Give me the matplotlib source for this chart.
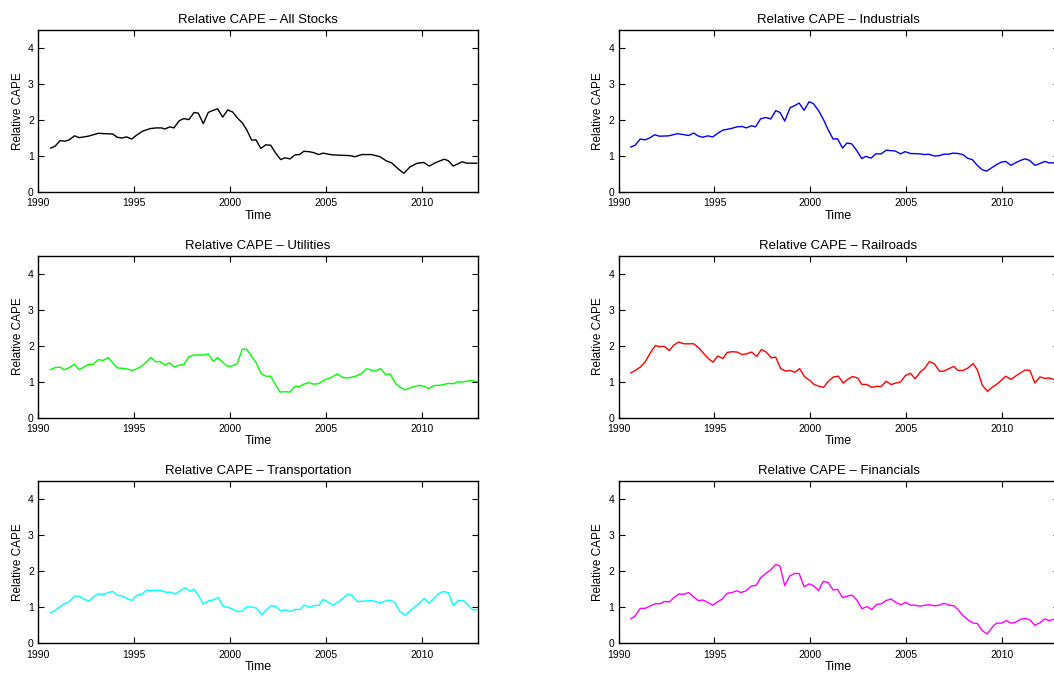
import matplotlib
matplotlib.use("Agg")
import matplotlib.pyplot as plt

plt.rcParams['font.family'] = ['Liberation Sans', 'DejaVu Sans']

# series (decimal year, relative CAPE)
t_all = [1990.66, 1990.89, 1991.15, 1991.40, 1991.63, 1991.90, 1992.15, 1992.62, 1993.14, 1993.90,
         1994.13, 1994.36, 1994.62, 1994.88, 1995.14, 1995.45, 1995.83, 1996.15, 1996.44, 1996.60,
         1996.88, 1997.08, 1997.36, 1997.60, 1997.86, 1998.13, 1998.35, 1998.61, 1998.87, 1999.13,
         1999.36, 1999.62, 1999.88, 2000.14, 2000.38, 2000.64, 2000.87, 2001.13, 2001.35, 2001.61,
         2001.86, 2002.12, 2002.38, 2002.64, 2002.86, 2003.13, 2003.39, 2003.62, 2003.85, 2004.13,
         2004.38, 2004.62, 2004.86, 2005.12, 2005.38, 2005.82, 2006.25, 2006.51, 2006.86, 2007.38,
         2007.81, 2008.16, 2008.42, 2008.77, 2009.06, 2009.38, 2009.76, 2010.10, 2010.38, 2010.77,
         2011.16, 2011.37, 2011.63, 2012.10, 2012.33, 2012.85]
v_all = [1.22, 1.27, 1.43, 1.41, 1.45, 1.56, 1.51, 1.55, 1.63, 1.61,
         1.52, 1.50, 1.53, 1.47, 1.58, 1.69, 1.76, 1.78, 1.78, 1.75,
         1.81, 1.78, 1.98, 2.04, 2.01, 2.21, 2.19, 1.90, 2.21, 2.27,
         2.31, 2.08, 2.28, 2.22, 2.06, 1.92, 1.73, 1.44, 1.45, 1.21,
         1.31, 1.30, 1.08, 0.90, 0.95, 0.92, 1.03, 1.04, 1.13, 1.12,
         1.09, 1.04, 1.08, 1.05, 1.03, 1.02, 1.01, 0.98, 1.04, 1.04,
         0.98, 0.86, 0.81, 0.64, 0.52, 0.70, 0.80, 0.82, 0.72, 0.83,
         0.91, 0.87, 0.72, 0.84, 0.80, 0.80]

t_ind = [1990.64, 1990.87, 1991.13, 1991.39, 1991.62, 1991.88, 1992.13, 1992.61, 1993.08, 1993.66,
         1993.92, 1994.13, 1994.39, 1994.65, 1994.91, 1995.17, 1995.44, 1995.84, 1996.18, 1996.45,
         1996.66, 1996.92, 1997.14, 1997.40, 1997.67, 1997.93, 1998.19, 1998.41, 1998.66, 1998.94,
         1999.18, 1999.41, 1999.67, 1999.93, 2000.16, 2000.42, 2000.68, 2000.92, 2001.18, 2001.41,
         2001.67, 2001.90, 2002.14, 2002.40, 2002.67, 2002.89, 2003.15, 2003.41, 2003.68, 2003.94,
         2004.41, 2004.69, 2004.93, 2005.21, 2005.68, 2005.94, 2006.15, 2006.46, 2006.72, 2006.95,
         2007.20, 2007.42, 2007.68, 2007.94, 2008.17, 2008.43, 2008.69, 2008.94, 2009.18, 2009.43,
         2009.69, 2009.95, 2010.17, 2010.44, 2010.68, 2010.91, 2011.17, 2011.41, 2011.69, 2011.95,
         2012.21, 2012.42, 2012.56, 2012.90]
v_ind = [1.25, 1.30, 1.47, 1.45, 1.50, 1.59, 1.55, 1.56, 1.62, 1.57,
         1.64, 1.56, 1.52, 1.56, 1.53, 1.63, 1.72, 1.76, 1.81, 1.82,
         1.78, 1.84, 1.81, 2.03, 2.07, 2.03, 2.26, 2.21, 1.97, 2.34,
         2.40, 2.47, 2.27, 2.51, 2.45, 2.26, 2.01, 1.73, 1.47, 1.48,
         1.22, 1.36, 1.34, 1.16, 0.93, 0.99, 0.94, 1.06, 1.06, 1.16,
         1.14, 1.06, 1.12, 1.07, 1.06, 1.04, 1.05, 1.00, 1.01, 1.05,
         1.05, 1.08, 1.07, 1.04, 0.94, 0.90, 0.74, 0.62, 0.58, 0.67,
         0.76, 0.83, 0.85, 0.74, 0.81, 0.87, 0.92, 0.88, 0.74, 0.79,
         0.85, 0.81, 0.81, 0.80]

t_uti = [1990.66, 1990.89, 1991.15, 1991.37, 1991.63, 1991.89, 1992.15, 1992.40, 1992.66, 1992.88,
         1993.14, 1993.40, 1993.66, 1993.89, 1994.13, 1994.39, 1994.65, 1994.88, 1995.14, 1995.40,
         1995.63, 1995.87, 1996.13, 1996.35, 1996.61, 1996.84, 1997.10, 1997.34, 1997.60, 1997.86,
         1998.13, 1998.61, 1998.87, 1999.13, 1999.36, 1999.62, 1999.88, 2000.14, 2000.38, 2000.64,
         2000.87, 2001.13, 2001.35, 2001.61, 2001.86, 2002.12, 2002.38, 2002.60, 2002.86, 2003.13,
         2003.39, 2003.61, 2003.85, 2004.11, 2004.34, 2004.60, 2004.95, 2005.21, 2005.59, 2005.90,
         2006.16, 2006.60, 2006.86, 2007.12, 2007.55, 2007.85, 2008.11, 2008.33, 2008.68, 2009.11,
         2009.46, 2009.86, 2010.10, 2010.36, 2010.64, 2010.97, 2011.37, 2011.63, 2011.86, 2012.15,
         2012.38, 2012.67, 2012.93]
v_uti = [1.33, 1.39, 1.40, 1.33, 1.39, 1.48, 1.33, 1.41, 1.48, 1.48,
         1.61, 1.59, 1.67, 1.52, 1.38, 1.37, 1.35, 1.31, 1.35, 1.43,
         1.54, 1.67, 1.55, 1.56, 1.46, 1.52, 1.41, 1.45, 1.48, 1.69,
         1.74, 1.74, 1.77, 1.56, 1.67, 1.54, 1.42, 1.44, 1.50, 1.90,
         1.90, 1.70, 1.54, 1.23, 1.15, 1.15, 0.91, 0.71, 0.72, 0.71,
         0.87, 0.86, 0.93, 0.97, 0.93, 0.94, 1.05, 1.10, 1.21, 1.11,
         1.10, 1.16, 1.23, 1.36, 1.29, 1.36, 1.19, 1.22, 0.91, 0.77,
         0.84, 0.90, 0.87, 0.81, 0.89, 0.90, 0.95, 0.94, 0.99, 0.99,
         1.02, 1.02, 0.99]

t_rail = [1990.64, 1990.87, 1991.13, 1991.39, 1991.66, 1991.92, 1992.14, 1992.39, 1992.65, 1992.87,
          1993.14, 1993.40, 1993.92, 1994.18, 1994.44, 1994.70, 1994.93, 1995.17, 1995.44, 1995.66,
          1995.92, 1996.18, 1996.45, 1996.67, 1996.93, 1997.20, 1997.44, 1997.70, 1997.96, 1998.19,
          1998.45, 1998.71, 1998.94, 1999.18, 1999.44, 1999.70, 1999.97, 2000.19, 2000.45, 2000.68,
          2000.94, 2001.20, 2001.45, 2001.71, 2001.93, 2002.20, 2002.46, 2002.68, 2002.94, 2003.19,
          2003.45, 2003.68, 2003.94, 2004.20, 2004.46, 2004.69, 2004.95, 2005.21, 2005.45, 2005.71,
          2005.94, 2006.20, 2006.46, 2006.72, 2006.95, 2007.21, 2007.47, 2007.68, 2007.94, 2008.21,
          2008.47, 2008.69, 2008.95, 2009.22, 2009.46, 2009.69, 2009.95, 2010.17, 2010.44, 2010.68,
          2010.94, 2011.17, 2011.43, 2011.69, 2011.95, 2012.21, 2012.42, 2012.56, 2012.90]
v_rail = [1.24, 1.31, 1.40, 1.55, 1.80, 2.00, 1.97, 1.98, 1.86, 2.01,
          2.10, 2.05, 2.05, 1.94, 1.78, 1.63, 1.54, 1.71, 1.64, 1.81,
          1.83, 1.82, 1.75, 1.77, 1.82, 1.70, 1.89, 1.82, 1.66, 1.68,
          1.36, 1.29, 1.31, 1.26, 1.36, 1.13, 1.03, 0.92, 0.87, 0.84,
          1.01, 1.13, 1.15, 0.96, 1.06, 1.14, 1.10, 0.92, 0.92, 0.84,
          0.87, 0.86, 1.01, 0.92, 0.96, 0.99, 1.17, 1.23, 1.08, 1.26,
          1.36, 1.56, 1.49, 1.29, 1.29, 1.36, 1.42, 1.31, 1.31, 1.38,
          1.50, 1.33, 0.90, 0.73, 0.84, 0.92, 1.04, 1.15, 1.06, 1.15,
          1.24, 1.32, 1.31, 0.96, 1.13, 1.09, 1.10, 1.08, 1.02]

t_trans = [1990.66, 1990.89, 1991.15, 1991.41, 1991.63, 1991.89, 1992.15, 1992.40, 1992.66, 1992.92,
           1993.14, 1993.40, 1993.66, 1993.89, 1994.13, 1994.39, 1994.62, 1994.88, 1995.14, 1995.40,
           1995.66, 1995.89, 1996.15, 1996.39, 1996.65, 1996.91, 1997.17, 1997.40, 1997.66, 1997.92,
           1998.14, 1998.39, 1998.61, 1998.91, 1999.13, 1999.39, 1999.65, 1999.91, 2000.17, 2000.40,
           2000.64, 2000.90, 2001.16, 2001.39, 2001.65, 2001.91, 2002.14, 2002.40, 2002.64, 2002.90,
           2003.13, 2003.39, 2003.65, 2003.87, 2004.13, 2004.38, 2004.64, 2004.86, 2005.12, 2005.38,
           2005.73, 2006.16, 2006.34, 2006.63, 2006.94, 2007.38, 2007.81, 2008.07, 2008.33, 2008.59,
           2008.85, 2009.11, 2009.46, 2009.81, 2010.12, 2010.36, 2010.63, 2010.85, 2011.11, 2011.37,
           2011.63, 2011.89, 2012.15, 2012.41, 2012.64, 2012.85]
v_trans = [0.85, 0.91, 1.02, 1.11, 1.16, 1.31, 1.31, 1.22, 1.18, 1.31,
           1.37, 1.36, 1.41, 1.44, 1.34, 1.31, 1.25, 1.19, 1.33, 1.36,
           1.48, 1.46, 1.47, 1.47, 1.42, 1.42, 1.37, 1.46, 1.54, 1.45,
           1.50, 1.30, 1.09, 1.19, 1.20, 1.28, 1.02, 1.00, 0.94, 0.88,
           0.90, 1.02, 1.00, 0.98, 0.79, 0.94, 1.05, 1.02, 0.90, 0.93,
           0.88, 0.94, 0.94, 1.06, 1.00, 1.05, 1.05, 1.22, 1.14, 1.06,
           1.18, 1.37, 1.34, 1.16, 1.17, 1.19, 1.12, 1.17, 1.20, 1.13,
           0.89, 0.78, 0.93, 1.09, 1.25, 1.11, 1.25, 1.37, 1.44, 1.41,
           1.05, 1.19, 1.19, 1.06, 0.93, 0.93]

t_fin = [1990.64, 1990.87, 1991.13, 1991.39, 1991.66, 1991.92, 1992.18, 1992.39, 1992.65, 1992.87,
         1993.14, 1993.40, 1993.66, 1993.89, 1994.15, 1994.41, 1994.65, 1994.91, 1995.14, 1995.40,
         1995.66, 1995.92, 1996.15, 1996.39, 1996.65, 1996.92, 1997.18, 1997.40, 1997.67, 1997.93,
         1998.19, 1998.41, 1998.66, 1998.92, 1999.18, 1999.41, 1999.67, 1999.93, 2000.16, 2000.42,
         2000.66, 2000.92, 2001.18, 2001.41, 2001.67, 2001.93, 2002.16, 2002.42, 2002.68, 2002.94,
         2003.19, 2003.45, 2003.71, 2003.94, 2004.20, 2004.46, 2004.72, 2004.95, 2005.21, 2005.45,
         2005.71, 2005.98, 2006.20, 2006.46, 2006.72, 2006.95, 2007.21, 2007.47, 2007.68, 2007.94,
         2008.21, 2008.47, 2008.69, 2008.95, 2009.20, 2009.46, 2009.69, 2009.95, 2010.21, 2010.44,
         2010.68, 2010.94, 2011.20, 2011.43, 2011.69, 2011.95, 2012.21, 2012.42, 2012.56, 2012.90]
v_fin = [0.68, 0.76, 0.97, 0.97, 1.04, 1.10, 1.10, 1.16, 1.15, 1.26,
         1.37, 1.36, 1.41, 1.30, 1.19, 1.20, 1.14, 1.06, 1.14, 1.23,
         1.39, 1.41, 1.46, 1.41, 1.46, 1.59, 1.61, 1.82, 1.94, 2.04,
         2.19, 2.15, 1.60, 1.87, 1.94, 1.94, 1.57, 1.65, 1.60, 1.46,
         1.72, 1.69, 1.48, 1.50, 1.27, 1.31, 1.34, 1.20, 0.96, 1.02,
         0.94, 1.08, 1.10, 1.19, 1.23, 1.13, 1.07, 1.14, 1.06, 1.06,
         1.03, 1.06, 1.07, 1.04, 1.06, 1.11, 1.06, 1.04, 0.94, 0.77,
         0.65, 0.56, 0.55, 0.35, 0.26, 0.44, 0.56, 0.56, 0.63, 0.56,
         0.58, 0.67, 0.69, 0.65, 0.50, 0.57, 0.68, 0.63, 0.65, 0.70]

titles = ['Relative CAPE \u2013 All Stocks', 'Relative CAPE \u2013 Industrials',
          'Relative CAPE \u2013 Utilities', 'Relative CAPE \u2013 Railroads',
          'Relative CAPE \u2013 Transportation', 'Relative CAPE \u2013 Financials']
series = [(t_all, v_all), (t_ind, v_ind), (t_uti, v_uti),
          (t_rail, v_rail), (t_trans, v_trans), (t_fin, v_fin)]
colors = ['black', 'blue', '#00ff00', 'red', 'cyan', 'magenta']

W, H = 1054, 675
fig = plt.figure(figsize=(W / 100, H / 100), dpi=100)

lefts = [38, 618.5]
bottoms = [H - 192, H - 417.6, H - 643.3]
aw, ah = 440, 162

for i, (t, v) in enumerate(series):
    row, col = divmod(i, 2)
    ax = fig.add_axes([lefts[col] / W, bottoms[row] / H, aw / W, ah / H])
    ax.plot(t, v, color=colors[i], lw=1.0)
    ax.set_xlim(1990, 2012.92)
    ax.set_ylim(0, 4.5)
    ax.set_xticks([1990, 1995, 2000, 2005, 2010])
    ax.set_yticks([0, 1, 2, 3, 4])
    ax.tick_params(direction='in', top=True, right=True, length=4, width=0.8,
                   labelsize=7.5)
    ax.tick_params(axis='x', pad=4.5)
    ax.tick_params(axis='y', pad=3)
    for s in ax.spines.values():
        s.set_linewidth(1.0)
    ax.set_title(titles[i], fontsize=9.5, pad=5)
    ax.set_xlabel('Time', fontsize=9, labelpad=1)
    ax.set_ylabel('Relative CAPE', fontsize=8.5, labelpad=3)

fig.savefig('out.png', dpi=100)
